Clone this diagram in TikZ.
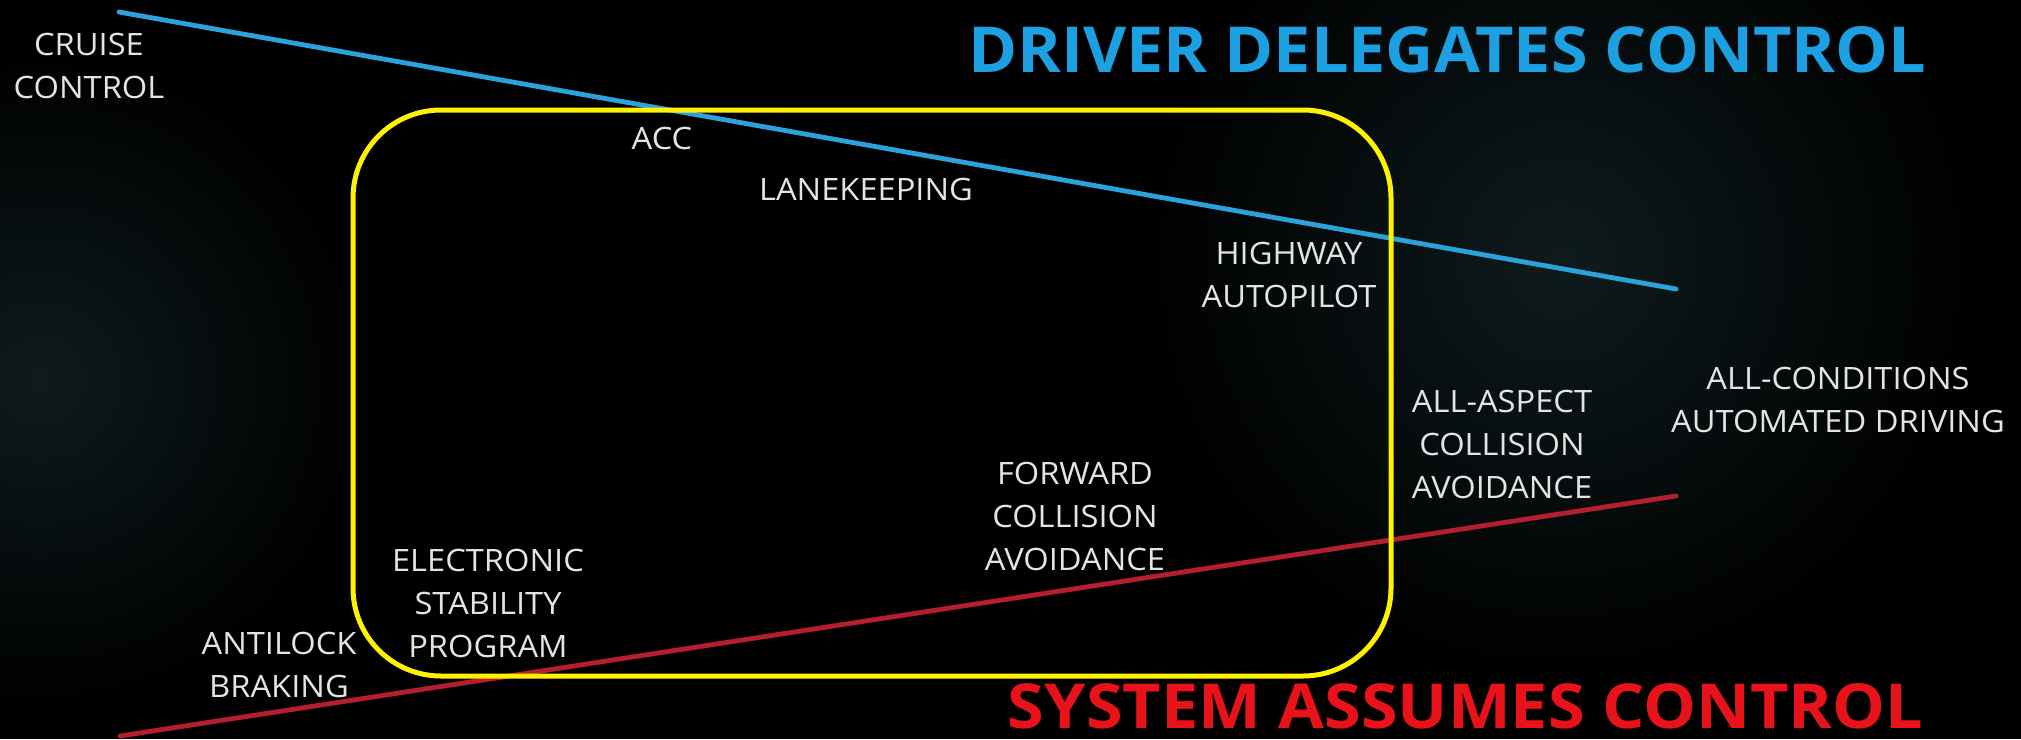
\documentclass[tikz,border=0pt]{standalone}
\usepackage{fontspec}
\setmainfont{Open Sans}
\newfontfamily\labfont[FakeStretch=1.06]{Open Sans}
\definecolor{labgray}{RGB}{228,228,228}
\definecolor{titleblue}{RGB}{28,160,226}
\definecolor{titlered}{RGB}{232,18,26}
\definecolor{lineblue}{RGB}{44,162,218}
\definecolor{linered}{RGB}{180,30,48}
\definecolor{glow}{RGB}{14,27,29}
\begin{document}
\begin{tikzpicture}[x=0.5pt,y=-0.5pt,
  lab/.style={text=labgray, font=\labfont\fontsize{15.4}{21.5}\selectfont, align=center, inner sep=0pt},
  title/.style={inner sep=0pt},
  trend/.style={line width=2.4pt, line cap=round},
  zone/.style={draw=yellow, line width=2.5pt, rounded corners=44pt}]
\fill[black] (0,0) rectangle (2021,739);
\useasboundingbox (0,0) rectangle (2021,739);
% faint background glows
\begin{scope}
\clip (0,0) rectangle (2021,739);
\shade[inner color=glow, outer color=black] (40,380) circle (330);
\shade[inner color=glow, outer color=black] (1560,260) circle (420);
\end{scope}
% trend lines
\coordinate (b1) at (119,12);
\coordinate (b2) at (1676,289);
\coordinate (r1) at (120,736);
\coordinate (r2) at (1676,496);
\draw[trend, draw=lineblue] (b1) -- (b2);
\draw[trend, draw=linered] (r1) -- (r2);
% highlighted zone
\draw[zone] (353,110) rectangle (1391,676);
% titles
\node[title, text=titleblue] (driver) at (1447,50) {\resizebox{479pt}{23pt}{\bfseries DRIVER DELEGATES CONTROL}};
\node[title, text=titlered] (system) at (1465.5,706) {\resizebox{457.5pt}{22.5pt}{\bfseries SYSTEM ASSUMES CONTROL}};
% labels
\node[lab] (cruise) at (89,65.75) {CRUISE\\CONTROL};
\node[lab] (acc) at (662,138) {ACC};
\node[lab] (lane) at (866,189) {LANEKEEPING};
\node[lab] (highway) at (1289,275) {HIGHWAY\\AUTOPILOT};
\node[lab] (allcond) at (1838,400) {ALL-CONDITIONS\\AUTOMATED DRIVING};
\node[lab] (allasp) at (1502,444) {ALL-ASPECT\\COLLISION\\AVOIDANCE};
\node[lab] (forward) at (1075,516) {FORWARD\\COLLISION\\AVOIDANCE};
\node[lab] (esp) at (488,603) {ELECTRONIC\\STABILITY\\PROGRAM};
\node[lab] (abs) at (279,665) {ANTILOCK\\BRAKING};
\end{tikzpicture}
\end{document}
